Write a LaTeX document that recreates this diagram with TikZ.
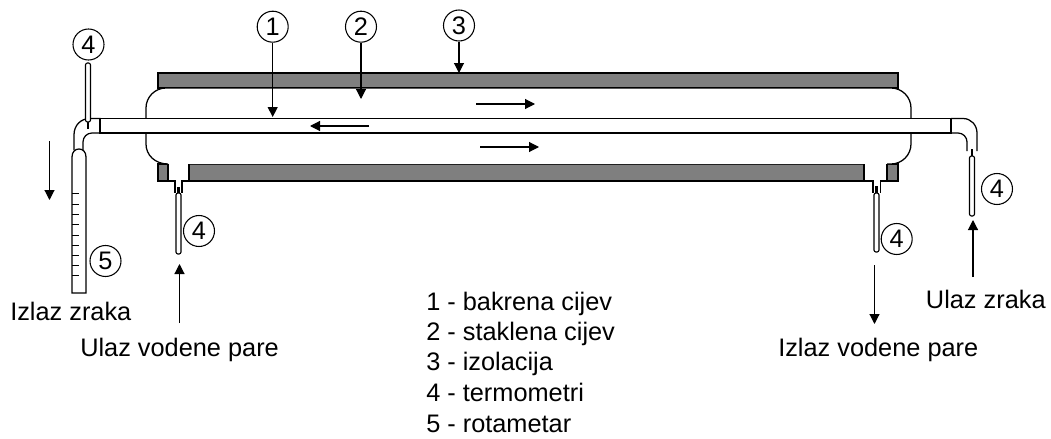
\documentclass[tikz,border=0pt]{standalone}
\usepackage{fontspec}
\setmainfont{Liberation Sans}
\usetikzlibrary{arrows.meta}
\definecolor{insulgray}{HTML}{7F7F7F}
\tikzset{
  px/.style={x=0.75pt,y=-0.75pt},
  line/.style={draw=black,line width=0.95pt,line join=miter},
  insul/.style={line,fill=insulgray},
  glass/.style={line,fill=white},
  flow/.style={draw=black,line width=0.85pt,-{Triangle[length=7.5pt,width=7.5pt]}},
  num/.style={circle,draw=black,line width=0.8pt,fill=white,minimum size=23.25pt,inner sep=0pt,font=\fontsize{19}{21}\selectfont},
  lab/.style={anchor=base west,inner sep=0pt,font=\fontsize{19}{21}\selectfont},
  tick/.style={draw=black,line width=0.7pt},
  thermo/.style={draw=black,line width=0.85pt,fill=white,rounded corners=1.5pt},
  bulb/.style={draw=black,line width=1.8pt}
}
\begin{document}
\begin{tikzpicture}[px]
\useasboundingbox (0,0) rectangle (1051,439);
% insulation
\path[insul] (158,73) rectangle (898,88);
\path[insul] (158,164) -- (168,164) -- (168,181) -- (158,181) -- cycle;
\path[insul] (189,164) rectangle (864,181);
\path[insul] (887,164) rectangle (898,181);
% glass tube
\path[glass] (168,164) .. controls (155,164) and (146,155) .. (146,144) -- (146,108)
  .. controls (146,97) and (155,88) .. (166,88) -- (891,88)
  .. controls (902,88) and (911,97) .. (911,108) -- (911,144)
  .. controls (911,155) and (902,164) .. (891,164) -- (887,164);
% necks
\draw[line] (168,164) -- (168,181) -- (175,181) -- (175,193);
\draw[line] (189,164) -- (189,181) -- (182,181) -- (182,193);
\draw[line] (864,164) -- (864,181) -- (873,181) -- (873,193);
\draw[line] (887,164) -- (887,181) -- (880.500,181) -- (880.500,193);
% copper tube
\path[glass] (100,118.500) rectangle (951,133);
% elbows
\draw[line] (74,150) -- (74,135) .. controls (74,125) and (81,118.500) .. (90,118.500) -- (100,118.500) -- (100,133) -- (92,133)
  .. controls (87,133) and (83,137) .. (83,142) -- (83,150);
\draw[line] (951,118.500) -- (963,118.500) .. controls (971,118.500) and (977,125) .. (977,133) -- (977,151);
\draw[line] (951,133) -- (958,133) .. controls (963,133) and (967,137) .. (967,142) -- (967,151);
% rotameter
\path[glass] (72,293) -- (72,157) .. controls (72,152) and (75,149) .. (79,149) .. controls (83,149) and (86,152) .. (86,157) -- (86,293) -- cycle;
\foreach \yy in {193,204,214,224,235,245,255,265,275} \draw[tick] (72,\yy) -- (78.500,\yy);
% thermometers
\draw[bulb] (88,121) -- (88,129);
\path[thermo] (85.500,63) rectangle (90.500,122);
\draw[bulb] (178.500,187) -- (178.500,193);
\path[thermo] (176,193) rectangle (181,254);
\draw[bulb] (876.500,186) -- (876.500,193);
\path[thermo] (874,193) rectangle (879,252);
\draw[bulb] (972,149) -- (972,156);
\path[thermo] (969.500,156) rectangle (974.500,216);
% numbered circles
\node[num] (n4a) at (88.500,44.500) {4};
\node[num] (n1) at (272.700,26.700) {1};
\node[num] (n2) at (361,26.700) {2};
\node[num] (n3) at (459,25.500) {3};
\node[num] (n4b) at (199,231) {4};
\node[num] (n5) at (105.500,261) {5};
\node[num] (n4c) at (896.700,239) {4};
\node[num] (n4d) at (997,189) {4};
% arrow end points
\coordinate (a1) at (272.700,117);
\coordinate (a2) at (361,99);
\coordinate (a3) at (459,73);
\coordinate (r1s) at (476,104); \coordinate (r1e) at (535,104);
\coordinate (r2s) at (480,147); \coordinate (r2e) at (539,147);
\coordinate (r3s) at (369,126); \coordinate (r3e) at (310,126);
\coordinate (ds) at (49.500,141); \coordinate (de) at (49.500,200);
\coordinate (us) at (179.500,323); \coordinate (ue) at (179.500,264);
\coordinate (ods) at (874.500,265); \coordinate (ode) at (874.500,324);
\coordinate (uzs) at (973,277); \coordinate (uze) at (973,220);
\draw[flow] (n1) -- (a1);
\draw[flow] (n2) -- (a2);
\draw[flow] (n3) -- (a3);
\draw[flow] (r1s) -- (r1e);
\draw[flow] (r2s) -- (r2e);
\draw[flow] (r3s) -- (r3e);
\draw[flow] (ds) -- (de);
\draw[flow] (us) -- (ue);
\draw[flow] (ods) -- (ode);
\draw[flow] (uzs) -- (uze);
% labels
\node[lab] (t1) at (10,320) {Izlaz zraka};
\node[lab] (t2) at (80,356.700) {Ulaz vodene pare};
\node[lab] (t3) at (925.700,308) {Ulaz zraka};
\node[lab] (t4) at (778,356.700) {Izlaz vodene pare};
\node[lab] (l1) at (426,310) {1 - bakrena cijev};
\node[lab] (l2) at (426,340) {2 - staklena cijev};
\node[lab] (l3) at (426,370.700) {3 - izolacija};
\node[lab] (l4) at (426,401.700) {4 - termometri};
\node[lab] (l5) at (426,432) {5 - rotametar};
\end{tikzpicture}
\end{document}
